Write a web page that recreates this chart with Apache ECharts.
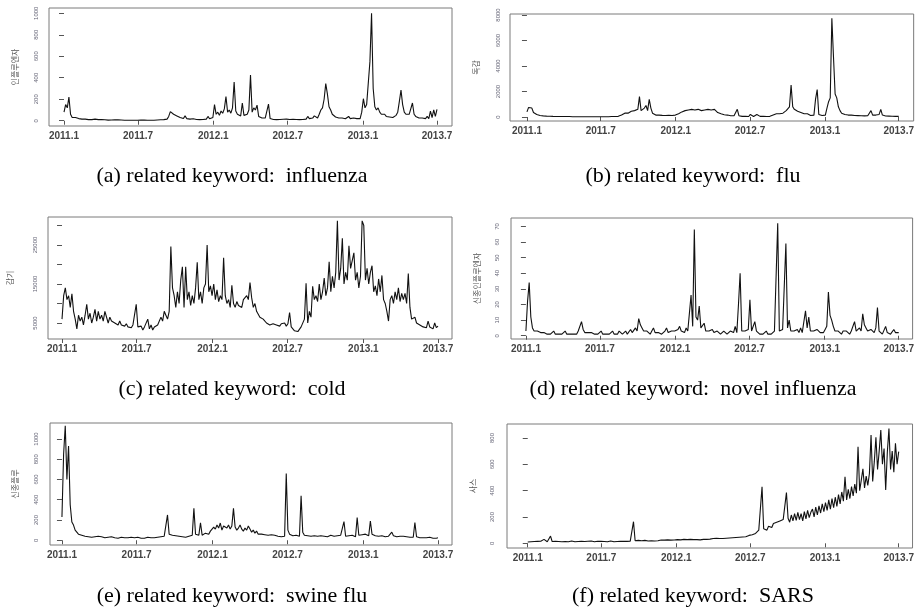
<!DOCTYPE html>
<html><head><meta charset="utf-8">
<script src="https://cdn.jsdelivr.net/npm/echarts@6/dist/echarts.min.js"></script>
<style>html,body{margin:0;padding:0;background:#fff}#c{width:917px;height:612px}</style>
</head><body><div id="c"></div>
<script>
// sampling step of the series (days), starting 2011-01-01
const STEP_DAYS = 4;
const tickDays = [0, 181, 365, 547, 731, 912];
const tickLabels = ['2011.1', '2011.7', '2012.1', '2012.7', '2013.1', '2013.7'];

const influenza = [
80,150,120,220,60,30,45,30,25,20,
18,15,30,15,12,10,14,10,8,15,
8,10,7,12,6,9,8,6,10,7,
5,8,6,9,5,7,6,4,8,5,
6,4,7,5,6,4,5,7,4,6,
5,4,6,5,8,5,6,7,5,9,
8,10,12,15,40,85,90,60,70,45,
40,30,25,20,45,20,18,15,12,18,
14,12,16,10,15,12,20,15,40,18,
20,30,150,60,80,50,90,70,110,225,
80,100,70,120,360,90,60,50,45,165,
50,40,60,100,425,80,120,100,145,40,
30,25,20,25,30,155,20,15,12,18,
10,15,12,10,14,12,15,30,12,10,
14,20,12,15,10,18,12,22,15,40,
20,30,25,45,30,25,60,100,120,200,
345,250,130,100,60,50,35,30,25,20,
25,20,18,22,40,20,18,25,35,20,
22,20,80,205,120,150,140,550,1000,300,
130,100,120,80,60,50,60,40,45,35,
40,30,35,50,80,180,285,150,80,60,
55,60,50,165,60,40,30,25,35,25,
30,20,40,20,90,30,100,40,105];

const flu = [
400,750,600,700,350,250,200,150,120,100,
90,80,70,60,55,50,45,50,40,45,
40,35,40,30,35,30,35,30,25,30,
25,30,25,20,25,20,25,20,25,20,
20,25,20,25,20,25,20,30,25,30,
25,30,35,30,40,35,50,60,150,250,
300,350,300,400,450,350,500,400,600,1600,
500,600,700,900,500,1390,700,300,200,150,
120,150,100,130,110,120,100,140,110,120,
130,150,200,250,300,400,350,500,450,550,
500,600,450,550,500,600,550,500,450,550,
500,600,650,550,700,600,450,350,300,250,
200,180,150,150,120,100,150,100,200,600,
100,60,50,40,60,50,40,200,50,40,
50,200,60,50,180,60,50,40,60,50,
70,150,200,250,300,250,350,300,400,500,
650,800,2500,800,600,500,450,400,350,300,
250,200,250,150,120,100,150,1400,2150,200,
150,120,200,150,700,1200,1500,7740,4700,1800,
1500,800,500,300,250,200,180,150,200,150,
150,120,140,110,130,100,120,90,110,100,
100,500,150,120,150,130,200,600,150,100,
80,90,70,80,60,70,50,60,50];

const cold = [
6000,12000,14000,11000,12000,9000,12500,8000,6000,3500,
7000,5500,6500,4500,7000,9800,6000,7500,5000,6500,
8500,5500,8000,6000,7000,5500,8000,7500,5000,6500,
5500,6000,5000,5500,4500,5500,4500,5000,4200,4800,
4000,4500,3800,4500,4000,9800,4000,3500,4200,3200,
4000,3500,6000,3500,4500,3200,4000,3500,4500,5000,
6500,5500,8000,7000,6000,8000,24600,14000,12000,9000,
13000,10000,16000,19400,9000,19400,11000,13000,9500,12000,
10000,14000,20600,11000,13000,10000,14000,15000,25000,13000,
14500,12000,15000,11000,13500,10500,12000,11000,21700,12000,
10000,11000,9000,14700,10000,9000,10500,9500,10000,9000,
11000,10500,12000,11000,15400,11500,9000,10000,8000,7500,
6500,7000,6000,5500,5000,5500,4500,5000,4800,5200,
4500,5000,4200,4800,4500,5000,4200,4800,7700,4000,
3500,3000,3500,2800,3200,4000,3500,6000,15200,5000,
8000,6500,14400,11000,12000,10500,15000,11000,13000,16500,
12000,14000,20700,13000,17000,14000,18000,31200,16000,19000,
26700,15000,18000,16000,24800,19000,21000,23000,16000,18000,
14000,17000,31200,30000,16000,19000,15000,18000,19700,13000,
14500,12000,16300,13000,17200,11000,10000,8000,5500,11000,
12000,10000,13000,11000,14000,10500,12600,11000,12600,10000,
17700,9000,6000,5500,6500,5000,5500,4500,5000,4000,
4500,3800,5500,4000,4500,3500,5000,3800,4200];

const novelInfluenza = [
3,22,34,12,5,3,2,3,2,2,
1,2,3,1,2,1,2,3,1,2,
1,2,1,2,3,1,2,1,2,1,
2,1,3,2,9,4,2,3,2,1,
2,3,1,2,1,2,3,1,2,1,
2,1,2,3,1,2,1,3,2,1,
2,3,1,2,4,2,3,5,3,11,
7,5,3,2,3,2,1,3,5,2,
1,2,3,1,2,3,5,2,1,3,
2,3,2,4,6,3,4,2,5,3,
4,26,6,68,12,10,19,5,6,8,
3,2,3,2,4,2,1,3,2,1,
2,3,2,1,2,3,2,2,6,2,
20,40,3,2,3,2,4,23,3,2,
9,3,2,1,2,1,2,3,1,2,
1,2,3,4,72,3,2,4,3,59,
5,10,3,2,3,2,4,2,5,2,
3,16,5,12,3,2,3,2,4,3,
2,3,2,4,6,28,13,10,6,3,
2,3,2,1,3,2,3,2,1,3,
2,9,3,2,5,3,14,7,5,3,
2,4,3,2,5,18,3,2,1,2,
6,2,3,1,2,4,2,1,2];

const swineFlu = [
230,850,1130,600,930,350,180,150,100,80,
60,70,50,60,40,50,35,45,30,40,
35,30,40,25,35,30,25,40,30,25,
35,30,25,30,20,25,30,20,25,20,
25,20,30,20,25,20,30,25,20,25,
20,25,30,20,25,30,25,35,30,40,
35,45,40,50,250,60,45,50,40,45,
35,40,45,35,40,30,35,40,45,50,
315,60,45,50,173,50,60,70,80,60,
90,100,130,110,150,120,170,100,140,130,
120,150,110,140,315,130,100,120,150,110,
90,120,100,140,110,80,100,70,90,60,
50,60,45,55,40,50,45,55,40,50,
45,40,50,35,45,40,660,100,60,50,
45,40,50,45,40,440,80,50,40,45,
35,40,30,45,35,40,30,45,35,40,
45,35,40,50,45,40,35,45,40,50,
45,185,40,35,45,40,50,45,35,225,
50,40,55,45,60,50,45,190,60,50,
45,55,40,50,45,40,35,45,40,50,
80,45,40,35,45,40,35,40,30,35,
40,30,35,30,175,35,30,25,30,25,
30,25,20,30,25,20,25,20,25];

const sars = [
10,15,12,18,14,20,15,12,16,14,
30,15,12,18,55,14,12,16,20,14,
15,12,18,14,16,12,15,18,14,12,
16,14,12,15,18,14,12,16,14,18,
15,12,14,16,12,15,18,14,16,12,
15,18,14,12,16,14,18,15,20,16,
18,15,20,16,18,164,20,18,22,16,
20,18,22,20,18,24,20,22,18,25,
20,22,25,20,24,22,26,20,24,22,
25,22,28,24,26,22,30,25,28,24,
30,26,28,32,28,30,26,32,30,34,
30,35,32,30,36,33,38,34,36,40,
36,40,38,42,40,45,42,48,44,50,
46,52,48,55,50,58,60,70,65,80,
75,90,100,95,430,110,120,100,130,140,
120,150,140,160,150,170,160,180,170,385,
190,160,215,170,225,175,235,180,225,170,
240,185,250,195,235,260,200,275,215,285,
230,300,240,310,250,330,260,340,270,350,
280,370,300,390,320,505,330,410,340,430,
360,450,380,734,400,480,565,420,510,440,
530,822,470,620,806,560,700,860,600,720,
405,690,872,560,700,540,760,600,696];

const yTitles = ['인플루엔자', '독감', '감기', '신종인플루엔자', '신종플루', '사스'];
const captions = ['(a) related keyword:  influenza', '(b) related keyword:  flu',
  '(c) related keyword:  cold', '(d) related keyword:  novel influenza',
  '(e) related keyword:  swine flu', '(f) related keyword:  SARS'];
const yTickValues = [
  [0,200,400,600,800,1000], [0,2000,4000,6000,8000],
  [5000,10000,15000,20000,25000,30000], [0,10,20,30,40,50,60,70],
  [0,200,400,600,800,1000], [0,200,400,600,800]];
const yLabelValues = [
  [0,200,400,600,800,1000], [0,2000,4000,6000,8000],
  [5000,15000,25000], [0,10,20,30,40,50,60,70],
  [0,200,400,600,800,1000], [0,200,400,600,800]];
const seriesList = [influenza, flu, cold, novelInfluenza, swineFlu, sars];

// layout (pixels) and axis ranges
const layout = [
  {box:[49,8,452,126],  xr:[-36.7,948.7], yr:[-49,1049],   lblGap:10, nameGap:30, cap:[232,176]},
  {box:[510,14,915,121],xr:[-41.6,948.7], yr:[-314,8078],  lblGap:9,  nameGap:30, cap:[693,176]},
  {box:[48,217,452,339],xr:[-34,946],     yr:[900,32180],  lblGap:10, nameGap:34, cap:[232,389]},
  {box:[511,218,915,339],xr:[-36.5,946],  yr:[-2.1,75.4],  lblGap:11, nameGap:30, cap:[693,389]},
  {box:[50,423,452,545],xr:[-29,946],     yr:[-47,1158],   lblGap:11, nameGap:31, cap:[232,596]},
  {box:[507,424,915,548],xr:[-51,946],    yr:[-35.6,906],  lblGap:12, nameGap:30, cap:[693,596]}
];

const grids = [], xAxes = [], yAxes = [], series = [], graphics = [];
layout.forEach((L, k) => {
  const [x0, y0, x1, y1] = L.box;
  grids.push({left:x0, top:y0, width:x1-x0, height:y1-y0, show:true,
    borderColor:'#7a7a7a', borderWidth:1, backgroundColor:'transparent'});
  xAxes.push({type:'value', gridIndex:k, min:L.xr[0], max:L.xr[1],
    axisLine:{show:false}, splitLine:{show:false},
    axisTick:{show:true, customValues:tickDays, length:4, lineStyle:{color:'#555'}},
    axisLabel:{customValues:tickDays, margin:5, fontSize:10, fontWeight:'bold',
      fontFamily:'Liberation Sans', color:'#444',
      formatter:v => tickLabels[tickDays.indexOf(v)] || ''}});
  yAxes.push({type:'value', gridIndex:k, min:L.yr[0], max:L.yr[1],
    name:yTitles[k], nameLocation:'middle', nameGap:L.nameGap, nameRotate:90,
    nameTextStyle:{fontFamily:'Noto Sans CJK KR', fontSize:8, color:'#555'},
    axisLine:{show:false}, splitLine:{show:false},
    axisTick:{show:true, customValues:yTickValues[k], length:5, lineStyle:{color:'#555'}},
    axisLabel:{customValues:yLabelValues[k], rotate:90, margin:L.lblGap, fontSize:6,
      fontFamily:'Liberation Sans', color:'#667', formatter:v => String(v)}});
  series.push({type:'line', xAxisIndex:k, yAxisIndex:k, showSymbol:false, symbol:'none',
    animation:false, clip:true,
    lineStyle:{color:'#111', width:1.1},
    data: seriesList[k].map((v, i) => [i * STEP_DAYS, v])});
  graphics.push({type:'text', x:L.cap[0], y:L.cap[1],
    style:{text:captions[k], font:'22px "Liberation Serif"', fill:'#000',
      align:'center', verticalAlign:'middle', textAlign:'center', textVerticalAlign:'middle'}});
});

const chart = echarts.init(document.getElementById('c'), null, {renderer:'canvas'});
chart.setOption({animation:false, backgroundColor:'#fff', grid:grids, xAxis:xAxes, yAxis:yAxes,
  series:series, graphic:graphics});
</script></body></html>
